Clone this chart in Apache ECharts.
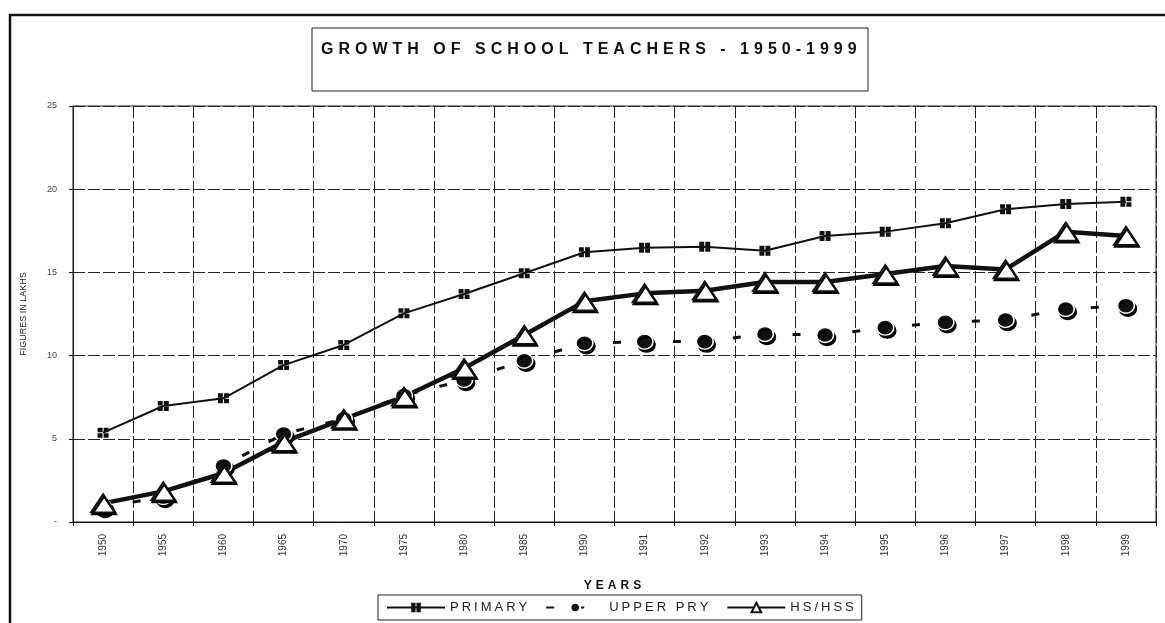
<!DOCTYPE html>
<html>
<head>
<meta charset="utf-8">
<title>Growth of school teachers</title>
<script src="https://cdn.jsdelivr.net/npm/echarts@6/dist/echarts.min.js"></script>
<style>
  html, body { margin: 0; padding: 0; background: #fff; }
  #chart { width: 1165px; height: 623px; }
</style>
</head>
<body>
<div id="chart"></div>
<script>
// chart data (lakhs)
const titleText = 'GROWTH OF SCHOOL TEACHERS - 1950-1999'
const yAxisName = 'FIGURES IN LAKHS'
const xAxisName = 'YEARS'
const years = ['1950', '1955', '1960', '1965', '1970', '1975', '1980', '1985', '1990',
  '1991', '1992', '1993', '1994', '1995', '1996', '1997', '1998', '1999']
const yTickLabels = ['-', '5', '10', '15', '20', '25']
const seriesNames = ['PRIMARY', 'UPPER PRY', 'HS/HSS']
const primary = [5.37, 6.97, 7.43, 9.43, 10.64, 12.54, 13.70, 14.95, 16.21,
  16.48, 16.54, 16.30, 17.19, 17.45, 17.95, 18.79, 19.11, 19.25]
const upperPry = [0.9, 1.5, 3.37, 5.29, 6.2, 7.6, 8.53, 9.69, 10.74,
  10.84, 10.84, 11.30, 11.24, 11.68, 12.0, 12.14, 12.8, 13.0]
const hsHss = [1.12, 1.84, 2.93, 4.81, 6.19, 7.53, 9.24, 11.24, 13.26,
  13.74, 13.9, 14.42, 14.42, 14.9, 15.38, 15.18, 17.45, 17.19]

// letter spacing through rich text, one token per character
function spaced (str) {
  return str.split('').map(c => '{s|' + c + '}').join('')
}

// the little "four squares" marker of the primary series
const quadSquare = 'path://M0,0h4.5v4.5h-4.5z M5.5,0h4.5v4.5h-4.5z M0,5.5h4.5v4.5h-4.5z M5.5,5.5h4.5v4.5h-4.5z'

const chart = echarts.init(document.getElementById('chart'))
const option = {
  animation: false,
  backgroundColor: '#fff',
  textStyle: { fontFamily: 'Liberation Sans, Arial, sans-serif', color: '#111' },
  title: {
    text: spaced(titleText),
    left: 316,
    top: 37,
    textStyle: {
      rich: {
        s: { fontSize: 16, fontWeight: 'bold', color: '#111', padding: [0, 5, 0, 0], fontFamily: 'Liberation Sans' }
      }
    }
  },
  graphic: [
    {
      type: 'rect',
      shape: { x: 10, y: 15, width: 1200, height: 700 },
      style: { fill: 'none', stroke: '#111', lineWidth: 2.5 },
      silent: true
    },
    {
      type: 'rect',
      shape: { x: 312, y: 28, width: 556, height: 63 },
      style: { fill: 'none', stroke: '#222', lineWidth: 1 },
      silent: true
    }
  ],
  grid: {
    left: 73,
    right: 9,
    top: 106,
    bottom: 101,
    show: true,
    borderColor: '#222',
    borderWidth: 1
  },
  legend: {
    data: seriesNames,
    left: 378,
    top: 595,
    itemWidth: 58,
    itemHeight: 12,
    itemGap: 18,
    padding: [6, 8],
    borderColor: '#222',
    borderWidth: 1,
    selectedMode: false,
    formatter: name => spaced(name),
    textStyle: {
      rich: {
        s: { fontSize: 13, color: '#222', padding: [0, 3, 0, 0], fontFamily: 'Liberation Sans' }
      }
    }
  },
  xAxis: {
    type: 'category',
    data: years,
    boundaryGap: true,
    name: spaced(xAxisName),
    nameLocation: 'middle',
    nameGap: 58,
    nameTextStyle: {
      rich: {
        s: { fontSize: 12, fontWeight: 'bold', color: '#111', padding: [0, 4, 0, 0], fontFamily: 'Liberation Sans' }
      }
    },
    axisLine: { lineStyle: { color: '#111', width: 1 } },
    axisTick: { show: true, length: 4, lineStyle: { color: '#111' } },
    axisLabel: { rotate: 90, fontSize: 10, color: '#333', margin: 12, interval: 0 },
    splitLine: { show: true, lineStyle: { color: '#222', width: 1, type: [12, 3] } }
  },
  yAxis: {
    type: 'value',
    min: 0,
    max: 25,
    interval: 5,
    name: yAxisName,
    nameLocation: 'middle',
    nameGap: 45,
    nameTextStyle: { fontSize: 9, color: '#222', fontFamily: 'Liberation Sans' },
    axisLine: { show: true, lineStyle: { color: '#111', width: 1 } },
    axisTick: { show: true, length: 4, lineStyle: { color: '#111' } },
    axisLabel: {
      fontSize: 9,
      color: '#444',
      margin: 16,
      formatter: v => yTickLabels[Math.round(v / 5)]
    },
    splitLine: { show: true, lineStyle: { color: '#222', width: 1, type: [12, 3] } }
  },
  series: [
    {
      name: seriesNames[0],
      type: 'line',
      data: primary,
      symbol: quadSquare,
      symbolSize: [11, 10],
      lineStyle: { color: '#111', width: 2 },
      itemStyle: { color: '#111' },
      emphasis: { disabled: true }
    },
    {
      name: seriesNames[1],
      type: 'line',
      data: upperPry,
      symbol: 'circle',
      symbolSize: [17, 15],
      lineStyle: { color: '#111', width: 3, type: [8, 22] },
      itemStyle: {
        color: '#111',
        borderColor: '#fff',
        borderWidth: 1.5,
        shadowColor: '#000',
        shadowBlur: 0,
        shadowOffsetX: 2,
        shadowOffsetY: 3
      },
      emphasis: { disabled: true }
    },
    {
      name: seriesNames[2],
      type: 'line',
      data: hsHss,
      symbol: 'triangle',
      symbolSize: [24, 18],
      lineStyle: { color: '#111', width: 4.5 },
      itemStyle: {
        color: '#fff',
        borderColor: '#111',
        borderWidth: 2,
        shadowColor: '#000',
        shadowBlur: 0,
        shadowOffsetX: 1,
        shadowOffsetY: 2
      },
      emphasis: { disabled: true }
    }
  ]
}
chart.setOption(option)
</script>
</body>
</html>
